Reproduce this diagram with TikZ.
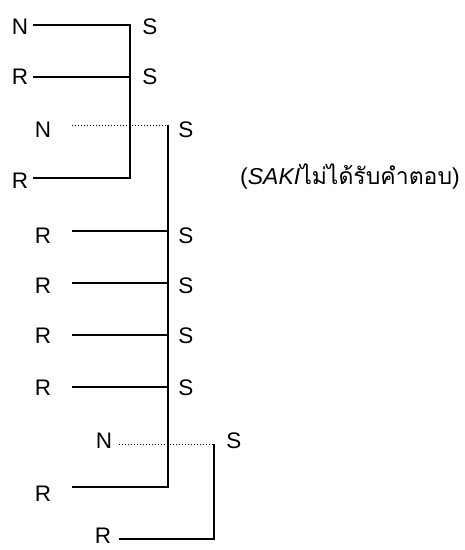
\documentclass[tikz,border=0pt]{standalone}
\usepackage{fontspec}
\setmainfont{Liberation Sans}
\newfontfamily\thaifont[Script=Thai]{Loma}
\begin{document}
\begin{tikzpicture}[x=1pt,y=-1pt,
  lbl/.style={font=\fontsize{22.5}{22.5}\selectfont, inner sep=0pt},
  solidln/.style={line width=1.5pt},
  dotln/.style={line width=1pt, dotted}]
\useasboundingbox (0,0) rectangle (465,550);
% labels
\node[lbl] (n1) at (20,27) {N};
\node[lbl] (s1) at (150,27) {S};
\node[lbl] (r2) at (20,77) {R};
\node[lbl] (s2) at (150,77) {S};
\node[lbl] (n3) at (43,130) {N};
\node[lbl] (s3) at (186,130) {S};
\node[lbl] (r4) at (20,181) {R};
\node[lbl] (r5) at (43,236) {R};
\node[lbl] (s5) at (186,236) {S};
\node[lbl] (r6) at (43,286) {R};
\node[lbl] (s6) at (186,286) {S};
\node[lbl] (r7) at (43,336) {R};
\node[lbl] (s7) at (186,336) {S};
\node[lbl] (r8) at (43,388) {R};
\node[lbl] (s8) at (186,388) {S};
\node[lbl] (n9) at (104,441) {N};
\node[lbl] (s9) at (234,441) {S};
\node[lbl] (r10) at (43,494) {R};
\node[lbl] (r11) at (103,536) {R};
\node[anchor=west, inner sep=0pt, font=\fontsize{23}{23}\selectfont] (note) at (240,177) {(\textit{SAKI}{\thaifont ไม่ได้รับคำตอบ})};
% coordinates
\coordinate (a1) at (33,25);  \coordinate (b1) at (130,25);
\coordinate (a2) at (33,77);  \coordinate (b2) at (130,77);
\coordinate (a3) at (72,125); \coordinate (b3) at (168,125);
\coordinate (a4) at (33,178); \coordinate (b4) at (130,178);
\coordinate (a5) at (72,231); \coordinate (b5) at (168,231);
\coordinate (a6) at (72,283); \coordinate (b6) at (168,283);
\coordinate (a7) at (72,335); \coordinate (b7) at (168,335);
\coordinate (a8) at (72,387); \coordinate (b8) at (168,387);
\coordinate (a9) at (119,444); \coordinate (b9) at (214,444);
\coordinate (a10) at (72,487); \coordinate (b10) at (168,487);
\coordinate (a11) at (119,539); \coordinate (b11) at (214,539);
% lines
\draw[solidln] (a1) -- (b1) -- (b4) -- (a4);
\draw[solidln] (a2) -- (b2);
\draw[dotln] (a3) -- (b3);
\draw[solidln] (b3) -- (b10) -- (a10);
\draw[solidln] (a5) -- (b5);
\draw[solidln] (a6) -- (b6);
\draw[solidln] (a7) -- (b7);
\draw[solidln] (a8) -- (b8);
\draw[dotln] (a9) -- (b9);
\draw[solidln] (b9) -- (b11) -- (a11);
\end{tikzpicture}
\end{document}
